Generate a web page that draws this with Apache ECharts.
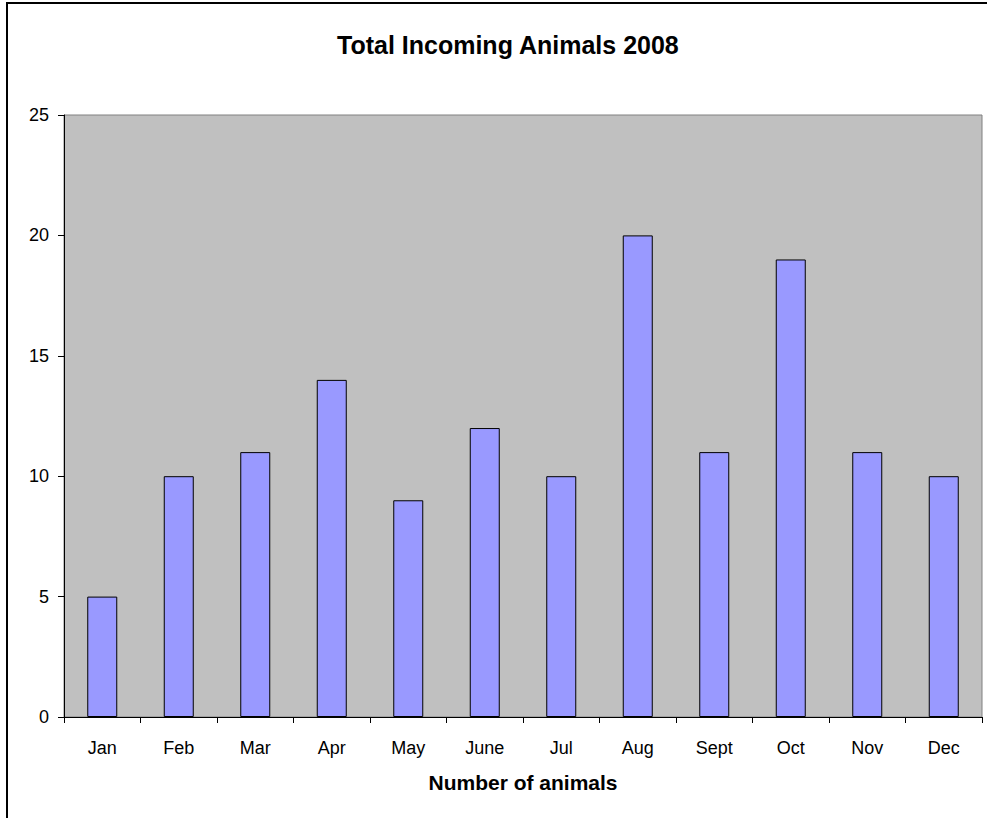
<!DOCTYPE html>
<html>
<head>
<meta charset="utf-8">
<script src="https://cdn.jsdelivr.net/npm/echarts@6/dist/echarts.min.js"></script>
<style>
html,body{margin:0;padding:0;background:#fff;}
#chart{width:987px;height:818px;}
</style>
</head>
<body>
<div id="chart"></div>
<script>
const months = ['Jan','Feb','Mar','Apr','May','June','Jul','Aug','Sept','Oct','Nov','Dec'];
const animals = [5,10,11,14,9,12,10,20,11,19,11,10];
const yTicks = {min:0, max:25, interval:5};
const titleText = 'Total Incoming Animals 2008';
const xAxisName = 'Number of animals';

const chart = echarts.init(document.getElementById('chart'), null, {renderer:'svg'});
const font = 'Liberation Sans, Arial, sans-serif';
chart.setOption({
  animation:false,
  backgroundColor:'#ffffff',
  title:{
    text:titleText,
    left:332, top:27,
    textStyle:{fontFamily:font,fontSize:25,fontWeight:'bold',color:'#000'}
  },
  graphic:[{
    type:'rect', silent:true,
    shape:{x:7,y:3,width:3000,height:3000},
    style:{fill:'none',stroke:'#000',lineWidth:2}
  }],
  grid:{
    left:64, right:5, top:115, bottom:101,
    show:true, backgroundColor:'#C0C0C0', borderColor:'#808080', borderWidth:1
  },
  xAxis:{
    type:'category', data:months,
    name:xAxisName, nameLocation:'middle', nameGap:55,
    nameTextStyle:{fontFamily:font,fontSize:21,fontWeight:'bold',color:'#000'},
    axisLine:{lineStyle:{color:'#000',width:1}},
    axisTick:{show:true,length:6,lineStyle:{color:'#000'}},
    axisLabel:{fontFamily:font,fontSize:18,color:'#000',margin:22},
    splitLine:{show:false}
  },
  yAxis:{
    type:'value', min:yTicks.min, max:yTicks.max, interval:yTicks.interval,
    axisLine:{show:true,lineStyle:{color:'#000',width:1}},
    axisTick:{show:true,length:6,lineStyle:{color:'#000'}},
    axisLabel:{fontFamily:font,fontSize:18,color:'#000',margin:15},
    splitLine:{show:false}
  },
  series:[{
    type:'bar', data:animals, barWidth:30,
    itemStyle:{color:'#9999FF',borderColor:'#000',borderWidth:1}
  }]
});
</script>
</body>
</html>
